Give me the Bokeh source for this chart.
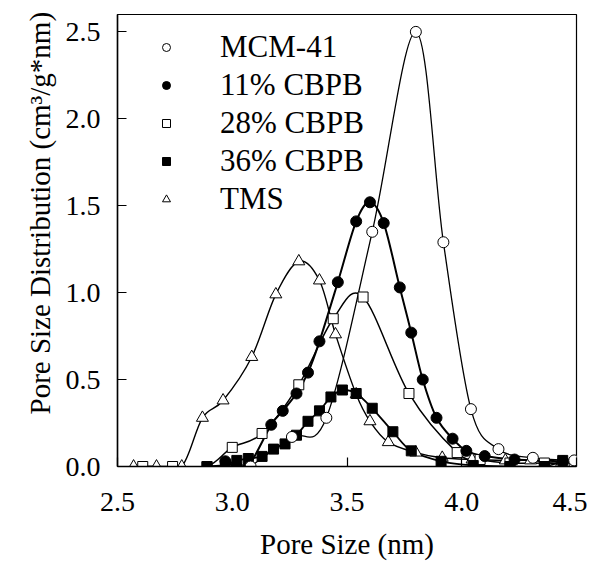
from bokeh.plotting import figure
from bokeh.models import Legend, LegendItem, FixedTicker, NumeralTickFormatter, Range1d, Title
from bokeh.embed import file_html
from bokeh.resources import INLINE

# ---- data ----
mcm_x = [3.08, 3.26, 3.41, 3.61, 3.80, 3.92, 4.04, 4.16, 4.31, 4.49]
mcm_y = [0.0, 0.17, 0.28, 1.35, 2.50, 1.29, 0.33, 0.10, 0.05, 0.035]

c11_x = [2.97, 3.02, 3.07, 3.17, 3.22, 3.28, 3.33, 3.38, 3.46, 3.54, 3.60, 3.66,
         3.73, 3.78, 3.83, 3.89, 3.96, 4.02, 4.10, 4.23, 4.44]
c11_y = [0.03, 0.0, 0.0, 0.24, 0.32, 0.42, 0.54, 0.72, 1.06, 1.41, 1.52, 1.40,
         1.03, 0.77, 0.50, 0.28, 0.16, 0.09, 0.06, 0.04, 0.03]

c28_x = [2.61, 2.74, 2.89, 3.00, 3.13, 3.29, 3.44, 3.57, 3.77, 3.98, 4.08, 4.21, 4.36, 4.49]
c28_y = [0.0, 0.0, 0.0, 0.11, 0.19, 0.47, 0.85, 0.975, 0.42, 0.08, 0.04, 0.02, 0.02, 0.02]

c36_x = [2.89, 2.97, 3.02, 3.07, 3.13, 3.18, 3.23, 3.28, 3.33, 3.38, 3.43, 3.48,
         3.54, 3.61, 3.70, 3.78, 3.91, 4.05, 4.21, 4.36, 4.44]
c36_y = [0.0, 0.01, 0.035, 0.046, 0.058, 0.10, 0.13, 0.18, 0.26, 0.32, 0.40, 0.44,
         0.42, 0.335, 0.20, 0.09, 0.03, 0.006, 0.0, 0.0, 0.035]

tms_x = [2.57, 2.67, 2.78, 2.87, 2.96, 3.085, 3.19, 3.29, 3.38, 3.45, 3.54, 3.60,
         3.68, 3.80, 3.915, 4.045, 4.19, 4.30, 4.43]
tms_y = [0.0, 0.0, 0.0, 0.28, 0.38, 0.63, 0.99, 1.18, 1.07, 0.76, 0.415, 0.26,
         0.14, 0.08, 0.05, 0.04, 0.035, 0.035, 0.01]

x_ticks = [2.5, 3.0, 3.5, 4.0, 4.5]
y_ticks = [0.0, 0.5, 1.0, 1.5, 2.0, 2.5]

FONT = "Liberation Serif"

p = figure(width=587, height=562, x_range=Range1d(2.5, 4.5), y_range=Range1d(0, 2.6),
           output_backend="svg", toolbar_location=None,
           min_border_left=117, min_border_right=11, min_border_top=14, min_border_bottom=95)
p.grid.visible = False
p.outline_line_color = "black"
p.outline_line_width = 1.2
p.background_fill_color = "white"
p.border_fill_color = "white"

for ax, ticks in ((p.xaxis[0], x_ticks), (p.yaxis[0], y_ticks)):
    ax.ticker = FixedTicker(ticks=ticks)
    ax.formatter = NumeralTickFormatter(format="0.0")
    ax.major_tick_in = 9
    ax.major_tick_out = 0
    ax.minor_tick_in = 0
    ax.minor_tick_out = 0
    ax.axis_line_width = 1.5
    ax.major_tick_line_width = 1.2
    ax.major_label_text_font = FONT
    ax.major_label_text_font_size = "28px"
    ax.major_label_text_color = "black"
    ax.axis_label_text_font = FONT
    ax.axis_label_text_font_size = "29px"
    ax.axis_label_text_font_style = "normal"
    ax.axis_label_text_color = "black"

p.xaxis.axis_label = "Pore Size (nm)"
p.xaxis.major_label_standoff = 26
p.yaxis.major_label_standoff = 17
p.xaxis.axis_label_standoff = 14

ytitle = Title(text="Pore Size Distribution (cm\u00b3/g*nm)", align="left", offset=52,
               text_font=FONT, text_font_size="29px", text_font_style="normal",
               text_color="black", standoff=14)
p.add_layout(ytitle, "left")


def smooth(xs, ys, width):
    n = len(xs)
    d = dict(x0=[], y0=[], x1=[], y1=[], cx0=[], cy0=[], cx1=[], cy1=[])
    for i in range(n - 1):
        xm, ym = (xs[i - 1], ys[i - 1]) if i > 0 else (xs[i], ys[i])
        xp, yp = (xs[i + 2], ys[i + 2]) if i + 2 < n else (xs[i + 1], ys[i + 1])
        d["x0"].append(xs[i]); d["y0"].append(ys[i])
        d["x1"].append(xs[i + 1]); d["y1"].append(ys[i + 1])
        d["cx0"].append(xs[i] + (xs[i + 1] - xm) / 6.0)
        d["cy0"].append(ys[i] + (ys[i + 1] - ym) / 6.0)
        d["cx1"].append(xs[i + 1] - (xp - xs[i]) / 6.0)
        d["cy1"].append(ys[i + 1] - (yp - ys[i]) / 6.0)
    p.bezier(line_color="black", line_width=width, **d)


smooth(tms_x, tms_y, 1.4)
smooth(mcm_x, mcm_y, 1.3)
smooth(c28_x, c28_y, 1.5)
smooth(c36_x, c36_y, 1.8)
smooth(c11_x, c11_y, 2.0)

r_tms = p.scatter(tms_x, tms_y, marker="triangle", size=12, fill_color="white", line_color="black", line_width=1)
r_28 = p.scatter(c28_x, c28_y, marker="square", size=10, fill_color="white", line_color="black", line_width=1)
r_36 = p.scatter(c36_x, c36_y, marker="square", size=10, fill_color="black", line_color="black", line_width=1)
r_11 = p.scatter(c11_x, c11_y, marker="circle", size=11, fill_color="black", line_color="black", line_width=1)
r_mcm = p.scatter(mcm_x, mcm_y, marker="circle", size=11, fill_color="white", line_color="black", line_width=1)

legend = Legend(items=[
    LegendItem(label="MCM-41", renderers=[r_mcm]),
    LegendItem(label="11% CBPB", renderers=[r_11]),
    LegendItem(label="28% CBPB", renderers=[r_28]),
    LegendItem(label="36% CBPB", renderers=[r_36]),
    LegendItem(label="TMS", renderers=[r_tms]),
], location=(39, 249), orientation="vertical",
    background_fill_alpha=0, border_line_alpha=0,
    label_text_font=FONT, label_text_font_size="31px", label_text_color="black",
    glyph_width=20, glyph_height=20, label_standoff=44,
    padding=0, margin=0, spacing=2)
p.add_layout(legend)

open("out.html", "w").write(file_html(p, INLINE))
